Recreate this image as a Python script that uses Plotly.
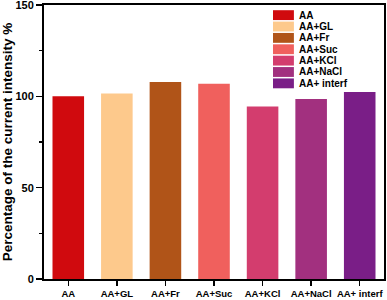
import plotly.graph_objects as go

categories = ["AA", "AA+GL", "AA+Fr", "AA+Suc", "AA+KCl", "AA+NaCl", "AA+ interf"]
values = [100.0, 101.6, 107.8, 106.9, 94.5, 98.5, 102.4]
colors = ["#D00A0E", "#FDC98C", "#B05418", "#F0605D", "#D33D6E", "#A2307F", "#7A1E87"]
y_ticks = [0, 50, 100, 150]

FONT = "Arial, Liberation Sans, sans-serif"

fig = go.Figure()
for cat, val, col in zip(categories, values, colors):
    fig.add_trace(go.Bar(x=[cat], y=[val], name=cat, marker=dict(color=col, line=dict(width=0)),
                         showlegend=False))

# custom legend (swatches + labels)
leg_x0, leg_x1 = 0.6735, 0.735
leg_top = 0.963
step = 0.0415
sw_h = 0.036
for i, (cat, col) in enumerate(zip(categories, colors)):
    yc = leg_top - i * step
    fig.add_shape(type="rect", xref="paper", yref="paper", x0=leg_x0, x1=leg_x1,
                  y0=yc - sw_h / 2, y1=yc + sw_h / 2, fillcolor=col, line=dict(width=0))
    fig.add_annotation(xref="paper", yref="paper", x=leg_x1 + 0.01, y=yc, text="<b>%s</b>" % cat,
                       showarrow=False, xanchor="left", yanchor="middle",
                       font=dict(family=FONT, size=10, color="#000"))

fig.update_layout(
    width=387, height=300,
    margin=dict(l=44, r=3, t=5, b=21),
    plot_bgcolor="white", paper_bgcolor="white",
    barmode="overlay", bargap=0.35,
    font=dict(family=FONT, color="#000"),
    showlegend=False,
)
fig.update_xaxes(
    showline=True, linecolor="#000", linewidth=2, mirror=True,
    ticks="outside", ticklen=5, tickwidth=1.5, tickcolor="#000",
    tickfont=dict(family=FONT, size=9.5), range=[-0.5, 6.5], tickangle=0,
    tickvals=categories, ticktext=["<b>%s</b>" % c for c in categories],
    showgrid=False, fixedrange=True, automargin=False,
)
fig.update_yaxes(
    range=[0, 150], tickvals=y_ticks, ticktext=["<b>%d</b>" % v for v in y_ticks],
    showline=True, linecolor="#000", linewidth=2, mirror=True,
    ticks="outside", ticklen=6, tickwidth=1.5, tickcolor="#000",
    minor=dict(tickvals=[25, 75, 125], ticks="outside", ticklen=3, tickwidth=1.5, tickcolor="#000"),
    tickfont=dict(family=FONT, size=11), ticklabeloverflow="allow",
    title=dict(text="<b>Percentage of the current intensity %</b>", font=dict(family=FONT, size=13.5), standoff=2),
    showgrid=False, zeroline=False, automargin=False, fixedrange=True,
)

fig.write_html("out.html", config={"displayModeBar": False, "staticPlot": True},
               post_script="document.body.style.margin='0';document.body.style.overflow='hidden';")
